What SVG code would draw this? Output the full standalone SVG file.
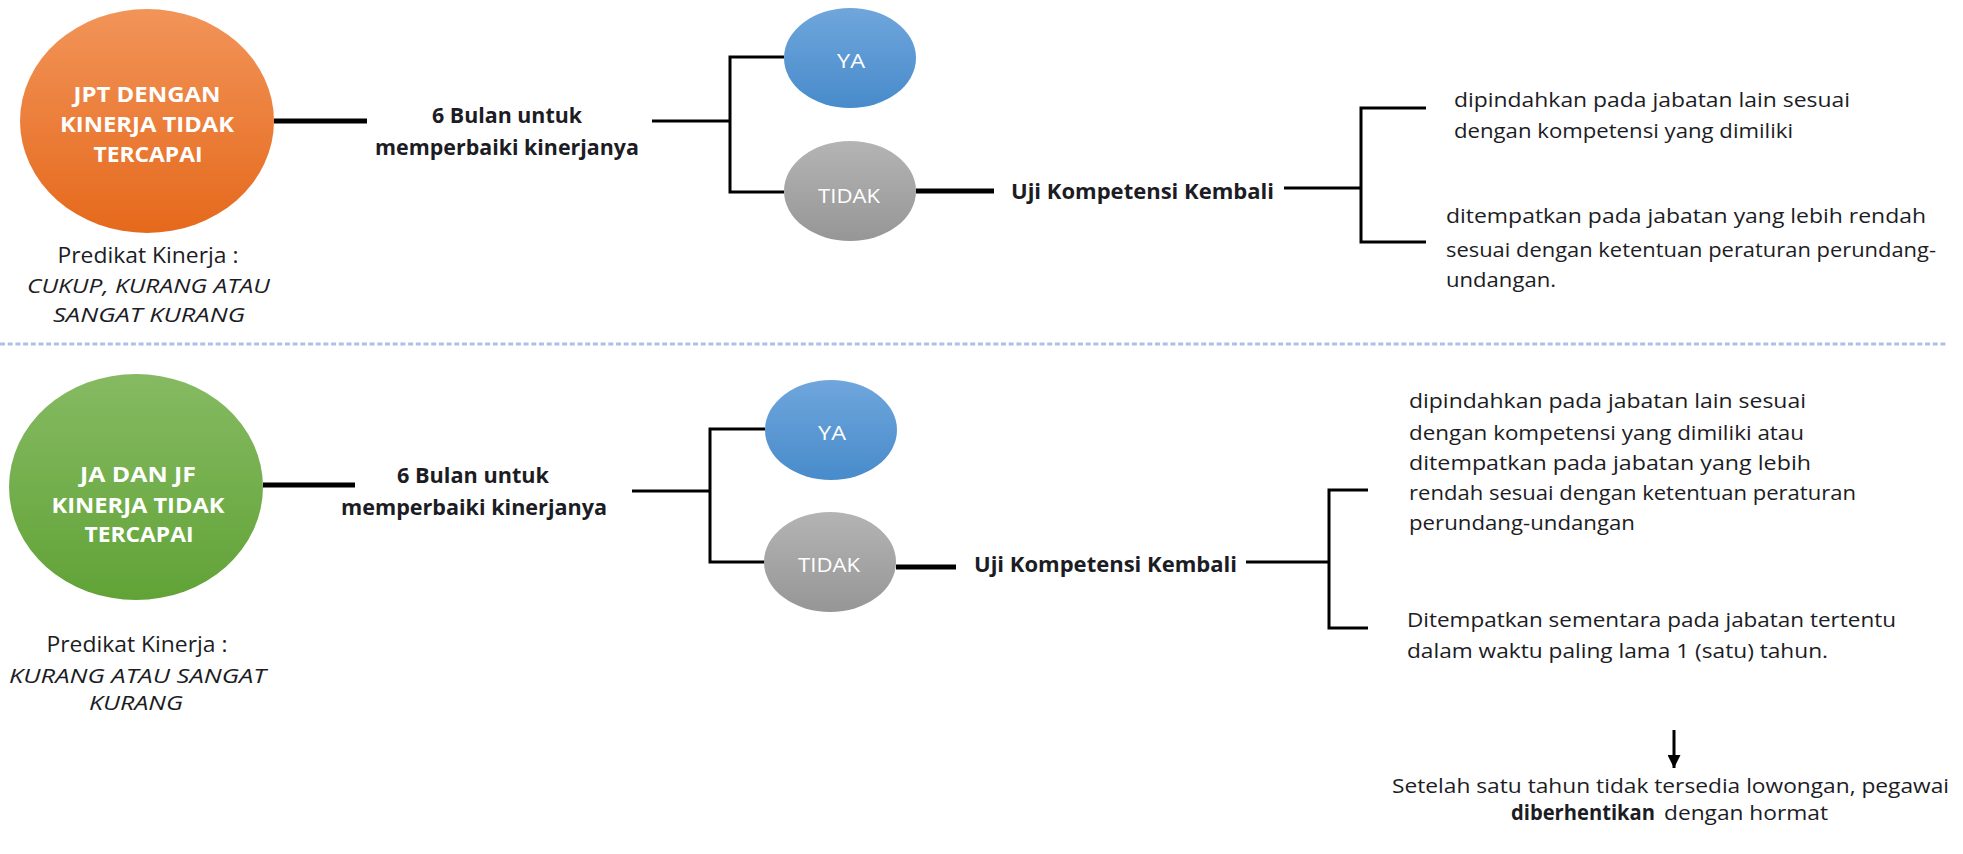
<svg xmlns="http://www.w3.org/2000/svg" width="1963" height="854" viewBox="0 0 1963 854">
<defs>
<linearGradient id="gOrange" x1="0" y1="0" x2="0" y2="1"><stop offset="0" stop-color="#F29459"/><stop offset="1" stop-color="#E5691C"/></linearGradient>
<linearGradient id="gGreen" x1="0" y1="0" x2="0" y2="1"><stop offset="0" stop-color="#86BA62"/><stop offset="1" stop-color="#61A337"/></linearGradient>
<linearGradient id="gBlue" x1="0" y1="0" x2="0" y2="1"><stop offset="0" stop-color="#6FA6DC"/><stop offset="1" stop-color="#488BCB"/></linearGradient>
<linearGradient id="gGray" x1="0" y1="0" x2="0" y2="1"><stop offset="0" stop-color="#B4B4B4"/><stop offset="1" stop-color="#969696"/></linearGradient>
<marker id="arrow" viewBox="0 0 10 10" refX="10" refY="5" markerWidth="13" markerHeight="13" markerUnits="userSpaceOnUse" orient="auto"><path d="M0,0 L10,5 L0,10 z" fill="#000"/></marker>
<style>
text{font-family:"Open Sans","Liberation Sans",sans-serif;fill:#1c1c24;font-size:20px}
.w{fill:#fff;font-size:20px}
.b{font-weight:bold;font-size:21px}
.big{font-size:21px;font-weight:bold;fill:#fff}
.it{font-style:italic;font-size:20px}
.p{font-size:21px}
.c{text-anchor:middle}
.ln{stroke:#000;stroke-width:3;fill:none}
.th{stroke:#000;stroke-width:5;fill:none}
</style>
</defs>
<rect width="1963" height="854" fill="#fff"/>
<line x1="0" y1="344" x2="1948" y2="344" stroke="#AFC0E8" stroke-width="3" stroke-dasharray="5,2.7"/>

<g id="connectors">
<line class="th" x1="274" y1="121" x2="367" y2="121"/>
<path class="ln" d="M652,121 H730 M784,57 H730 V192 H784"/>
<line class="th" x1="916" y1="191" x2="994" y2="191"/>
<path class="ln" d="M1284,188 H1361 M1426,108 H1361 V242 H1426"/>
<line class="th" x1="263" y1="485" x2="355" y2="485"/>
<path class="ln" d="M632,491 H710 M765,429 H710 V562 H765"/>
<line class="th" x1="896" y1="567" x2="956" y2="567"/>
<path class="ln" d="M1246,562 H1329 M1368,490 H1329 V628 H1368"/>
<line class="ln" x1="1674" y1="730" x2="1674" y2="768" marker-end="url(#arrow)"/>
</g>

<g id="jpt">
<ellipse cx="147" cy="121" rx="127" ry="112" fill="url(#gOrange)"/>
<text class="big c" x="147" y="102" textLength="147" lengthAdjust="spacingAndGlyphs">JPT DENGAN</text>
<text class="big c" x="147" y="132" textLength="174" lengthAdjust="spacingAndGlyphs">KINERJA TIDAK</text>
<text class="big c" x="148" y="162" textLength="109" lengthAdjust="spacingAndGlyphs">TERCAPAI</text>
</g>
<g id="predikat1">
<text class="p c" x="148" y="263" textLength="181" lengthAdjust="spacingAndGlyphs">Predikat Kinerja :</text>
<text class="it" x="27" y="293" textLength="243" lengthAdjust="spacingAndGlyphs">CUKUP, KURANG ATAU</text>
<text class="it" x="53" y="322" textLength="192" lengthAdjust="spacingAndGlyphs">SANGAT KURANG</text>
</g>
<g id="bulan1">
<text class="b c" x="507" y="123" textLength="150" lengthAdjust="spacingAndGlyphs">6 Bulan untuk</text>
<text class="b c" x="507" y="155" textLength="264" lengthAdjust="spacingAndGlyphs">memperbaiki kinerjanya</text>
</g>
<g id="ya1">
<ellipse cx="850" cy="58" rx="66" ry="50" fill="url(#gBlue)"/>
<text class="w c" x="851" y="68" textLength="28" lengthAdjust="spacingAndGlyphs">YA</text>
</g>
<g id="tidak1">
<ellipse cx="850" cy="191" rx="66" ry="50" fill="url(#gGray)"/>
<text class="w c" x="849" y="203" textLength="62" lengthAdjust="spacingAndGlyphs">TIDAK</text>
</g>
<g id="uji1">
<text class="b" x="1011" y="199" textLength="263" lengthAdjust="spacingAndGlyphs">Uji Kompetensi Kembali</text>
</g>
<g id="hasil1a">
<text x="1454" y="107" textLength="396" lengthAdjust="spacingAndGlyphs">dipindahkan pada jabatan lain sesuai</text>
<text x="1454" y="138" textLength="339" lengthAdjust="spacingAndGlyphs">dengan kompetensi yang dimiliki</text>
</g>
<g id="hasil1b">
<text x="1446" y="223" textLength="480" lengthAdjust="spacingAndGlyphs">ditempatkan pada jabatan yang lebih rendah</text>
<text x="1446" y="257" textLength="490" lengthAdjust="spacingAndGlyphs">sesuai dengan ketentuan peraturan perundang-</text>
<text x="1446" y="287" textLength="110" lengthAdjust="spacingAndGlyphs">undangan.</text>
</g>

<g id="jajf">
<ellipse cx="136" cy="487" rx="127" ry="113" fill="url(#gGreen)"/>
<text class="big c" x="138" y="482" textLength="116" lengthAdjust="spacingAndGlyphs">JA DAN JF</text>
<text class="big c" x="138" y="513" textLength="173" lengthAdjust="spacingAndGlyphs">KINERJA TIDAK</text>
<text class="big c" x="139" y="542" textLength="109" lengthAdjust="spacingAndGlyphs">TERCAPAI</text>
</g>
<g id="predikat2">
<text class="p c" x="137" y="652" textLength="181" lengthAdjust="spacingAndGlyphs">Predikat Kinerja :</text>
<text class="it" x="9" y="683" textLength="257" lengthAdjust="spacingAndGlyphs">KURANG ATAU SANGAT</text>
<text class="it" x="89" y="710" textLength="94" lengthAdjust="spacingAndGlyphs">KURANG</text>
</g>
<g id="bulan2">
<text class="b c" x="473" y="483" textLength="152" lengthAdjust="spacingAndGlyphs">6 Bulan untuk</text>
<text class="b c" x="474" y="515" textLength="266" lengthAdjust="spacingAndGlyphs">memperbaiki kinerjanya</text>
</g>
<g id="ya2">
<ellipse cx="831" cy="430" rx="66" ry="50" fill="url(#gBlue)"/>
<text class="w c" x="832" y="440" textLength="28" lengthAdjust="spacingAndGlyphs">YA</text>
</g>
<g id="tidak2">
<ellipse cx="830" cy="562" rx="66" ry="50" fill="url(#gGray)"/>
<text class="w c" x="829" y="572" textLength="62" lengthAdjust="spacingAndGlyphs">TIDAK</text>
</g>
<g id="uji2">
<text class="b" x="974" y="572" textLength="263" lengthAdjust="spacingAndGlyphs">Uji Kompetensi Kembali</text>
</g>
<g id="hasil2a">
<text x="1409" y="408" textLength="397" lengthAdjust="spacingAndGlyphs">dipindahkan pada jabatan lain sesuai</text>
<text x="1409" y="440" textLength="395" lengthAdjust="spacingAndGlyphs">dengan kompetensi yang dimiliki atau</text>
<text x="1409" y="470" textLength="402" lengthAdjust="spacingAndGlyphs">ditempatkan pada jabatan yang lebih</text>
<text x="1409" y="500" textLength="447" lengthAdjust="spacingAndGlyphs">rendah sesuai dengan ketentuan peraturan</text>
<text x="1409" y="530" textLength="226" lengthAdjust="spacingAndGlyphs">perundang-undangan</text>
</g>
<g id="hasil2b">
<text x="1407" y="627" textLength="489" lengthAdjust="spacingAndGlyphs">Ditempatkan sementara pada jabatan tertentu</text>
<text x="1407" y="658" textLength="421" lengthAdjust="spacingAndGlyphs">dalam waktu paling lama 1 (satu) tahun.</text>
</g>
<g id="akhir">
<text x="1392" y="793" textLength="557" lengthAdjust="spacingAndGlyphs">Setelah satu tahun tidak tersedia lowongan, pegawai</text>
<text x="1511" y="820"><tspan class="b" textLength="144" lengthAdjust="spacingAndGlyphs">diberhentikan</tspan><tspan x="1664" textLength="164" lengthAdjust="spacingAndGlyphs">dengan hormat</tspan></text>
</g>
</svg>
